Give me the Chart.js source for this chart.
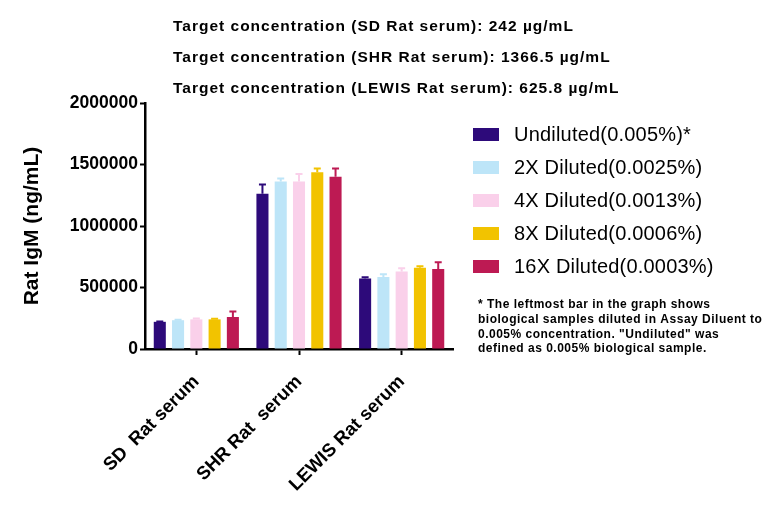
<!DOCTYPE html>
<html>
<head>
<meta charset="utf-8">
<script src="https://cdn.jsdelivr.net/npm/chart.js@4.4.1/dist/chart.umd.min.js"></script>
<style>
html,body{margin:0;padding:0;background:#fff;}
#wrap{width:780px;height:507px;position:relative;}
</style>
</head>
<body>
<div id="wrap"><canvas id="c" width="780" height="507"></canvas></div>
<script>
const categories = ['SD  Rat serum', 'SHR Rat  serum', 'LEWIS Rat serum'];
const seriesNames = ['Undiluted(0.005%)*', '2X Diluted(0.0025%)', '4X Diluted(0.0013%)', '8X Diluted(0.0006%)', '16X Diluted(0.0003%)'];
const undiluted = [221000, 1262000, 573000];
const diluted2x = [234000, 1362000, 586000];
const diluted4x = [241000, 1362000, 630000];
const diluted8x = [241000, 1436000, 660000];
const diluted16x = [260000, 1400000, 651000];
const errUndiluted = [3000, 76000, 11000];
const err2x = [4000, 25000, 22000];
const err4x = [6000, 60000, 27000];
const err8x = [4000, 32000, 13000];
const err16x = [45000, 68000, 55000];
const yTicks = [0, 500000, 1000000, 1500000, 2000000];
const titleLines = [
  'Target concentration (SD Rat serum): 242 \u00b5g/mL',
  'Target concentration (SHR Rat serum): 1366.5 \u00b5g/mL',
  'Target concentration (LEWIS Rat serum): 625.8 \u00b5g/mL'
];
const footnoteLines = [
  '* The leftmost bar in the graph shows',
  'biological samples diluted in Assay Diluent to',
  '0.005% concentration. "Undiluted" was',
  'defined as 0.005% biological sample.'
];
const colors = ['#2D0A7A', '#BDE5F8', '#FAD0EA', '#F2C300', '#BD1A53'];

const values = [undiluted, diluted2x, diluted4x, diluted8x, diluted16x];
const errors = [errUndiluted, err2x, err4x, err8x, err16x];

const datasets = values.map((v, i) => ({
  label: seriesNames[i],
  data: v,
  backgroundColor: colors[i],
  borderWidth: 0,
  errors: errors[i],
  barPercentage: 0.66,
  categoryPercentage: 0.89
}));

const errorBarPlugin = {
  id: 'errorBars',
  afterDatasetsDraw(chart) {
    const ctx = chart.ctx;
    const yScale = chart.scales.y;
    chart.data.datasets.forEach((ds, i) => {
      const meta = chart.getDatasetMeta(i);
      meta.data.forEach((bar, j) => {
        const top = yScale.getPixelForValue(ds.data[j] + ds.errors[j]);
        ctx.save();
        ctx.strokeStyle = ds.backgroundColor;
        ctx.lineWidth = 2;
        ctx.beginPath();
        ctx.moveTo(bar.x, bar.y);
        ctx.lineTo(bar.x, top);
        ctx.moveTo(bar.x - 3.5, top);
        ctx.lineTo(bar.x + 3.5, top);
        ctx.stroke();
        ctx.restore();
      });
    });
  }
};

const textPlugin = {
  id: 'texts',
  afterDraw(chart) {
    const ctx = chart.ctx;
    ctx.save();
    ctx.fillStyle = '#000';
    ctx.textBaseline = 'middle';
    ctx.textAlign = 'left';
    ctx.font = 'bold 15.5px "Liberation Sans", Arial, sans-serif';
    ctx.letterSpacing = '1px';
    const ty = [27, 58, 89];
    titleLines.forEach((t, i) => ctx.fillText(t, 173, ty[i]));
    // legend
    const ly = [134.5, 167.5, 200.5, 233.5, 266.5];
    ctx.letterSpacing = '0.2px';
    chart.data.datasets.forEach((ds, i) => {
      ctx.fillStyle = ds.backgroundColor;
      ctx.fillRect(473, ly[i] - 6.5, 26, 13);
      ctx.fillStyle = '#000';
      ctx.font = '20px "Liberation Sans", Arial, sans-serif';
      ctx.fillText(ds.label, 514, ly[i] + 1);
    });
    ctx.font = 'bold 12px "Liberation Sans", Arial, sans-serif';
    ctx.letterSpacing = '0.5px';
    const fy = [305, 320, 334.5, 349];
    footnoteLines.forEach((t, i) => ctx.fillText(t, 478, fy[i]));
    ctx.restore();
  }
};

new Chart(document.getElementById('c'), {
  type: 'bar',
  data: { labels: categories, datasets },
  options: {
    responsive: false,
    animation: false,
    devicePixelRatio: 1,
    layout: { padding: { left: 0, top: 103, right: 327, bottom: 0 } },
    plugins: { legend: { display: false }, tooltip: { enabled: false } },
    scales: {
      x: {
        offset: true,
        grid: { display: true, drawOnChartArea: false, drawTicks: true, tickLength: 6, tickColor: '#000', tickWidth: 2, offset: false },
        border: { display: true, color: '#000', width: 2.5 },
        ticks: {
          color: '#000',
          font: { family: '"Liberation Sans", Arial, sans-serif', size: 18.5, weight: 'bold' },
          maxRotation: 45, minRotation: 45, padding: 16
        },
        afterFit(scale) { scale.height = 158; }
      },
      y: {
        min: 0, max: 2000000,
        afterBuildTicks(scale) { scale.ticks = yTicks.map(v => ({ value: v })); },
        grid: { display: true, drawOnChartArea: false, drawTicks: true, tickLength: 5, tickColor: '#000', tickWidth: 2 },
        border: { display: true, color: '#000', width: 2.5 },
        ticks: {
          color: '#000',
          font: { family: '"Liberation Sans", Arial, sans-serif', size: 17.5, weight: 'bold' },
          padding: 2,
          callback: v => String(v)
        },
        title: {
          display: true,
          text: 'Rat IgM (ng/mL)',
          color: '#000',
          font: { family: '"Liberation Sans", Arial, sans-serif', size: 21, weight: 'bold' },
          padding: { top: 20, bottom: 0 }
        },
        afterFit(scale) { scale.width = 145; }
      }
    }
  },
  plugins: [errorBarPlugin, textPlugin]
});
</script>
</body>
</html>
